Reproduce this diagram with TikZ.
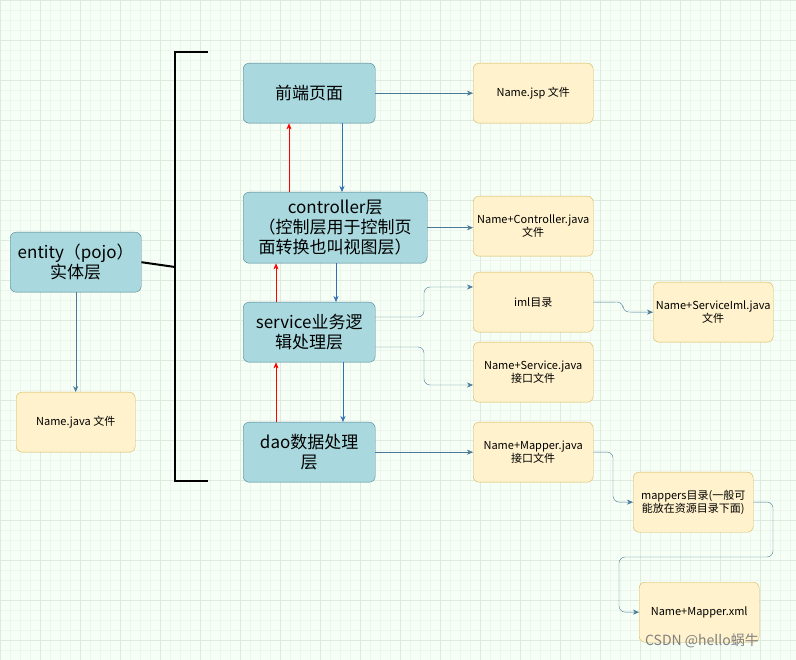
\documentclass[tikz,border=0pt]{standalone}
\usepackage{fontspec}
\setmainfont{Noto Sans CJK SC}
\usetikzlibrary{arrows.meta}
\definecolor{bfill}{HTML}{A9D9DE}
\definecolor{bline}{HTML}{4E7F8F}
\definecolor{yfill}{HTML}{FFF2CC}
\definecolor{yline}{HTML}{D6B656}
\definecolor{arr}{HTML}{2F6FB5}
\definecolor{garr}{HTML}{4A7A9A}
\definecolor{grid1}{HTML}{EEF5EE}
\definecolor{grid2}{HTML}{DDEADD}
\begin{document}
\begin{tikzpicture}[x=1pt,y=-1pt,
 bb/.style={draw=bline,fill=bfill,rounded corners=6pt,minimum width=#1,align=center,font=\fontsize{17}{20}\selectfont,inner sep=1pt,anchor=north west},
 yb/.style={draw=yline,fill=yfill,rounded corners=6pt,minimum width=120pt,minimum height=60pt,align=center,font=\fontsize{11}{13}\selectfont,inner sep=1pt,anchor=north west},
 ar/.style={draw=arr,-{Stealth[length=6pt,width=5pt]}},
 ga/.style={draw=garr,rounded corners=6pt,-{Stealth[length=6pt,width=5pt]}},
 ra/.style={draw=red,-{Stealth[length=6pt,width=5pt]}}]
\useasboundingbox (0,0) rectangle (796,660);
\fill[white!96!green] (0,0) rectangle (796,660);
\draw[grid1,step=10pt] (0,0) grid (796,660);
\draw[grid2,step=40pt] (0,0) grid (796,660);
% blue boxes
\node[bb=132pt,minimum height=60pt] (fe) at (243,63) {前端页面};
\node[bb=184pt,minimum height=71pt] (ct) at (243,192) {controller层\\（控制层用于控制页\\面转换也叫视图层）};
\node[bb=132pt,minimum height=60pt] (sv) at (243,302) {service业务逻\\辑处理层};
\node[bb=132pt,minimum height=60pt] (dao) at (243,422) {dao数据处理\\层};
\node[bb=131pt,minimum height=60pt] (en) at (10,232) {entity（pojo）\\实体层};
% yellow boxes
\node[yb] (jsp) at (473,63) {Name.jsp 文件};
\node[yb] (cj) at (473,196) {Name+Controller.java\\文件};
\node[yb] (iml) at (473,272) {iml目录};
\node[yb] (si) at (653,282) {Name+ServiceIml.java\\文件};
\node[yb] (sj) at (473,342) {Name+Service.java\\接口文件};
\node[yb] (mj) at (473,422) {Name+Mapper.java\\接口文件};
\node[yb] (md) at (633,472) {mappers目录(一般可\\能放在资源目录下面)};
\node[yb] (mx) at (639,582) {Name+Mapper.xml};
\node[yb,minimum width=119pt] (nj) at (16,392) {Name.java 文件};
% bracket
\coordinate (b1) at (208,52); \coordinate (b2) at (208,481); \coordinate (bm) at (175,267);
\draw[line width=2pt] (b1) -- (175,52) -- (175,481) -- (b2);
\draw[line width=2pt] (en.east) -- (bm);
% vertical arrows
\draw[ar] (fe.south -| 342,0) -- (ct.north -| 342,0);
\draw[ra] (ct.north -| 289,0) -- (fe.south -| 289,0);
\draw[ar] (ct.south -| 336,0) -- (sv.north -| 336,0);
\draw[ra] (sv.north -| 276,0) -- (ct.south -| 276,0);
\draw[ar] (sv.south -| 343,0) -- (dao.north -| 343,0);
\draw[ra] (dao.north -| 276,0) -- (sv.south -| 276,0);
\draw[ga] (en.south) -- (nj.north);
% horizontal
\draw[ga] (fe.east) -- (jsp.west);
\draw[ga] (ct.east) -- (ct.east -| cj.west);
\draw[ga] (375,317) -- (424,317) -- (424,287) -- (473,287);
\draw[ga] (375,347) -- (424,347) -- (424,385) -- (473,385);
\draw[ga] (iml.east) -- (623,302) -- (623,312) -- (si.west);
\draw[ga] (dao.east) -- (mj.west);
\draw[ga] (mj.east) -- (613,452) -- (613,502) -- (md.west);
\draw[ga] (md.east) -- (773,502) -- (773,557) -- (619,557) -- (619,612) -- (mx.west);
\node[text=gray,font=\fontsize{14}{16}\selectfont] (wm) at (702,641) {CSDN @hello蜗牛};
\end{tikzpicture}
\end{document}
